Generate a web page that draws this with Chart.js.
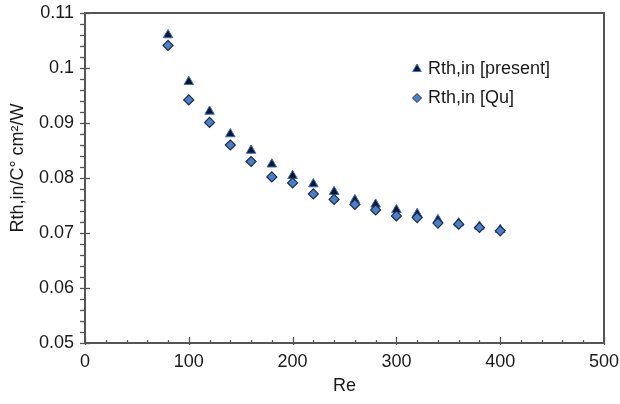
<!DOCTYPE html>
<html>
<head>
<meta charset="utf-8">
<script src="https://cdn.jsdelivr.net/npm/chart.js@4/dist/chart.umd.min.js"></script>
<style>
html,body{margin:0;padding:0;background:#fff;}
#wrap{width:620px;height:404px;position:relative;}
</style>
</head>
<body>
<div id="wrap"><canvas id="c" width="620" height="404"></canvas></div>
<script>
const reValues = [80,100,120,140,160,180,200,220,240,260,280,300,320,340,360,380,400];
const rthPresent = [0.1060,0.0975,0.0921,0.0880,0.0850,0.0825,0.0804,0.0789,0.0775,0.0760,0.0752,0.0742,0.0735,0.0724,0.0718,0.0712,0.0706];
const rthQu      = [0.1041,0.0942,0.0901,0.0860,0.0830,0.0802,0.0791,0.0771,0.0761,0.0752,0.0742,0.0731,0.0728,0.0718,0.0716,0.0710,0.0704];
const seriesNames = ['Rth,in [present]','Rth,in [Qu]'];
const xTitle = 'Re';
const yTitle = 'Rth,in/C\u00B0 cm\u00B2/W';
const yTickLabels = {0.05:'0.05',0.06:'0.06',0.07:'0.07',0.08:'0.08',0.09:'0.09',0.1:'0.1',0.11:'0.11'};

const FONT = '"Liberation Sans", Arial, Helvetica, sans-serif';
const FS = 18;
const TEXT = '#1a1a1a';
const AXIS = '#555555';

const toPts = (xs, ys) => xs.map((x,i)=>({x:x,y:ys[i]}));

const framePlugin = {
  id:'frame',
  afterDraw(chart){
    const ctx = chart.ctx, a = chart.chartArea;
    const xs = chart.scales.x, ys = chart.scales.y;
    ctx.save();
    ctx.strokeStyle = AXIS;
    ctx.lineWidth = 1.3;
    for (let k=0;k<=30;k++){
      const v = 0.05 + k*0.002;
      const py = Math.round(ys.getPixelForValue(v))+0.5;
      const major = (k%5===0);
      ctx.beginPath();
      ctx.moveTo(a.left-5, py);
      ctx.lineTo(a.left + (major?5:0), py);
      ctx.stroke();
    }
    for (let k=0;k<=25;k++){
      const v = k*20;
      const px = Math.round(xs.getPixelForValue(v))+0.5;
      const major = (k%5===0);
      ctx.beginPath();
      ctx.moveTo(px, a.bottom + (major?2:0));
      ctx.lineTo(px, a.bottom - (major?6:3));
      ctx.stroke();
    }
    ctx.lineWidth = 2;
    ctx.strokeRect(a.left, a.top, a.right-a.left, a.bottom-a.top);
    ctx.fillStyle = TEXT;
    ctx.font = FS + 'px ' + FONT;
    ctx.textAlign = 'center';
    ctx.textBaseline = 'middle';
    ctx.translate(18, 168);
    ctx.rotate(-Math.PI/2);
    ctx.fillText(yTitle, 0, 0);
    ctx.restore();
    ctx.save();
    const ds = chart.data.datasets;
    const legY = [69, 98];
    ds.forEach((d,i)=>{
      const lx = 417, ly = legY[i];
      ctx.fillStyle = d.backgroundColor;
      ctx.strokeStyle = d.borderColor;
      ctx.lineWidth = 1;
      Chart.helpers.drawPoint(ctx, {pointStyle:d.pointStyle, radius: i===0?5:4.5, borderWidth:1, rotation:0}, lx, ly);
      ctx.fillStyle = TEXT;
      ctx.font = FS + 'px ' + FONT;
      ctx.textAlign = 'left';
      ctx.textBaseline = 'middle';
      ctx.fillText(seriesNames[i], 428, ly);
    });
    ctx.restore();
  }
};

new Chart(document.getElementById('c'), {
  type:'scatter',
  data:{
    datasets:[
      {label:seriesNames[0], data:toPts(reValues, rthPresent), pointStyle:'triangle', pointRadius:5.5,
       backgroundColor:'#0b1630', borderColor:'#3d6fc0', borderWidth:1, order:2},
      {label:seriesNames[1], data:toPts(reValues, rthQu), pointStyle:'rectRot', pointRadius:5,
       backgroundColor:'#4a7fcb', borderColor:'#1d2c45', borderWidth:1.2, order:1}
    ]
  },
  plugins:[framePlugin],
  options:{
    responsive:false,
    animation:false,
    devicePixelRatio:1,
    layout:{padding:{top:13,right:16,left:0,bottom:0}},
    plugins:{legend:{display:false}, tooltip:{enabled:false}},
    scales:{
      x:{
        type:'linear', min:0, max:500,
        grid:{display:false, drawTicks:false},
        border:{display:false},
        ticks:{stepSize:100, color:TEXT, font:{family:FONT, size:FS}, padding:8, maxRotation:0},
        title:{display:true, text:xTitle, color:TEXT, font:{family:FONT, size:FS}, padding:{top:4,bottom:7}},
        afterFit(s){ s.height = 61; s.paddingLeft = 0; s.paddingRight = 0; }
      },
      y:{
        type:'linear', min:0.05, max:0.11,
        grid:{display:false, drawTicks:false},
        border:{display:false},
        ticks:{stepSize:0.01, color:TEXT, font:{family:FONT, size:FS}, padding:11,
          callback:(v)=>{ const k=Math.round(v*100)/100; return yTickLabels[k]!==undefined?yTickLabels[k]:''; }},
        afterFit(s){ s.width = 85; s.paddingTop = 0; s.paddingBottom = 0; }
      }
    }
  }
});
</script>
</body>
</html>
